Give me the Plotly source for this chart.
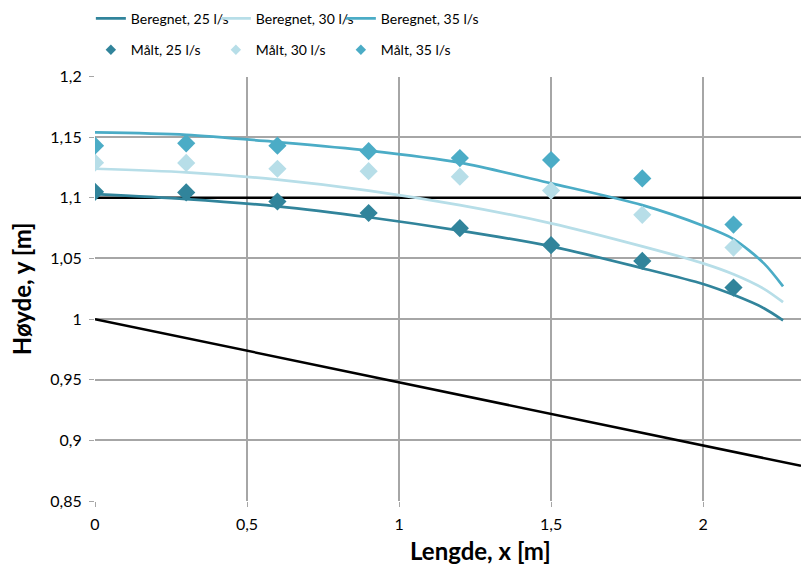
import plotly.graph_objects as go

# Measured points
x_meas = [0, 0.3, 0.6, 0.9, 1.2, 1.5, 1.8, 2.1]
meas_25 = [1.105, 1.1045, 1.097, 1.0875, 1.075, 1.061, 1.048, 1.026]
meas_30 = [1.129, 1.1288, 1.124, 1.122, 1.1175, 1.106, 1.086, 1.059]
meas_35 = [1.143, 1.145, 1.143, 1.1385, 1.1328, 1.1312, 1.116, 1.078]

# Calculated curves
x_calc = [0, 0.3, 0.6, 0.9, 1.2, 1.5, 1.8, 2.0, 2.1, 2.2, 2.263]
calc_25 = [1.103, 1.099, 1.093, 1.084, 1.073, 1.060, 1.042, 1.029, 1.020, 1.009, 0.999]
calc_30 = [1.124, 1.121, 1.115, 1.106, 1.094, 1.079, 1.060, 1.046, 1.037, 1.025, 1.014]
calc_35 = [1.154, 1.152, 1.146, 1.139, 1.129, 1.112, 1.094, 1.077, 1.066, 1.046, 1.027]

# Reference lines (crest level and channel bed)
x_ref = [0, 2.322]
crest = [1.1, 1.1]
bed = [1.0, 0.879]

c25 = "#31849B"
c30 = "#B7DEE8"
c35 = "#4BACC6"

font_family = "Lato, 'Open Sans', sans-serif"

fig = go.Figure()

fig.add_trace(go.Scatter(x=x_ref, y=crest, mode="lines", line=dict(color="#000000", width=2.5),
                         showlegend=False, hoverinfo="skip"))
fig.add_trace(go.Scatter(x=x_ref, y=bed, mode="lines", line=dict(color="#000000", width=2.5),
                         showlegend=False, hoverinfo="skip"))

for i, (name, y, c) in enumerate([("Beregnet, 25 l/s", calc_25, c25),
                                  ("Beregnet, 30 l/s", calc_30, c30),
                                  ("Beregnet, 35 l/s", calc_35, c35)]):
    fig.add_trace(go.Scatter(x=x_calc, y=y, mode="lines", name=name,
                             line=dict(color=c, width=2.7, shape="spline", smoothing=0.8),
                             legend="legend", legendwidth=(100 if i == 2 else None)))

for i, (name, y, c) in enumerate([("Målt, 25 l/s", meas_25, c25),
                                  ("Målt, 30 l/s", meas_30, c30),
                                  ("Målt, 35 l/s", meas_35, c35)]):
    fig.add_trace(go.Scatter(x=x_meas, y=y, mode="markers", name=name,
                             marker=dict(color=c, symbol="diamond", size=14, line=dict(width=0)),
                             showlegend=False))
    # legend entry with smaller symbol
    fig.add_trace(go.Scatter(x=[None], y=[None], mode="markers", name=name,
                             marker=dict(color=c, symbol="diamond", size=8, line=dict(width=0)),
                             legend="legend2", hoverinfo="skip",
                             legendwidth=(100 if i == 2 else None)))

grid = "#A6A6A6"
fig.update_layout(
    width=801, height=570,
    margin=dict(l=95, r=0, t=70, b=69),
    paper_bgcolor="white", plot_bgcolor="white",
    separators=", ",
    font=dict(family=font_family, size=14, color="#000000"),
    xaxis=dict(range=[0, 2.322], dtick=0.5, tick0=0, showgrid=True, gridcolor=grid, gridwidth=1.5,
               zeroline=False, showline=False, ticks="outside", ticklen=5, tickcolor=grid,
               tickfont=dict(size=16), ticklabelstandoff=4),
    yaxis=dict(range=[0.85, 1.2], dtick=0.05, tick0=0.85, showgrid=True, gridcolor=grid, gridwidth=1.5,
               zeroline=False, showline=False, ticks="outside", ticklen=5, tickcolor=grid,
               tickfont=dict(size=16), ticklabelstandoff=4,
               title=dict(text="<b>Høyde, y [m]</b>", font=dict(size=24), standoff=11)),
    legend=dict(orientation="h", xref="container", yref="container", x=0.36, y=0.995,
                xanchor="center", yanchor="top", font=dict(size=14), itemwidth=30,
                entrywidth=80, entrywidthmode="pixels",
                tracegroupgap=0, bgcolor="rgba(0,0,0,0)"),
    legend2=dict(orientation="h", xref="container", yref="container", x=0.36, y=0.94,
                 xanchor="center", yanchor="top", font=dict(size=14), itemwidth=30,
                 entrywidth=80, entrywidthmode="pixels",
                 bgcolor="rgba(0,0,0,0)"),
    annotations=[dict(text="<b>Lengde, x [m]</b>", xref="paper", yref="paper",
                      x=(480 - 95) / 706, y=-(551 - 501) / 431, xanchor="center", yanchor="middle",
                      showarrow=False, font=dict(size=24))],
)

fig.write_html("out.html")
